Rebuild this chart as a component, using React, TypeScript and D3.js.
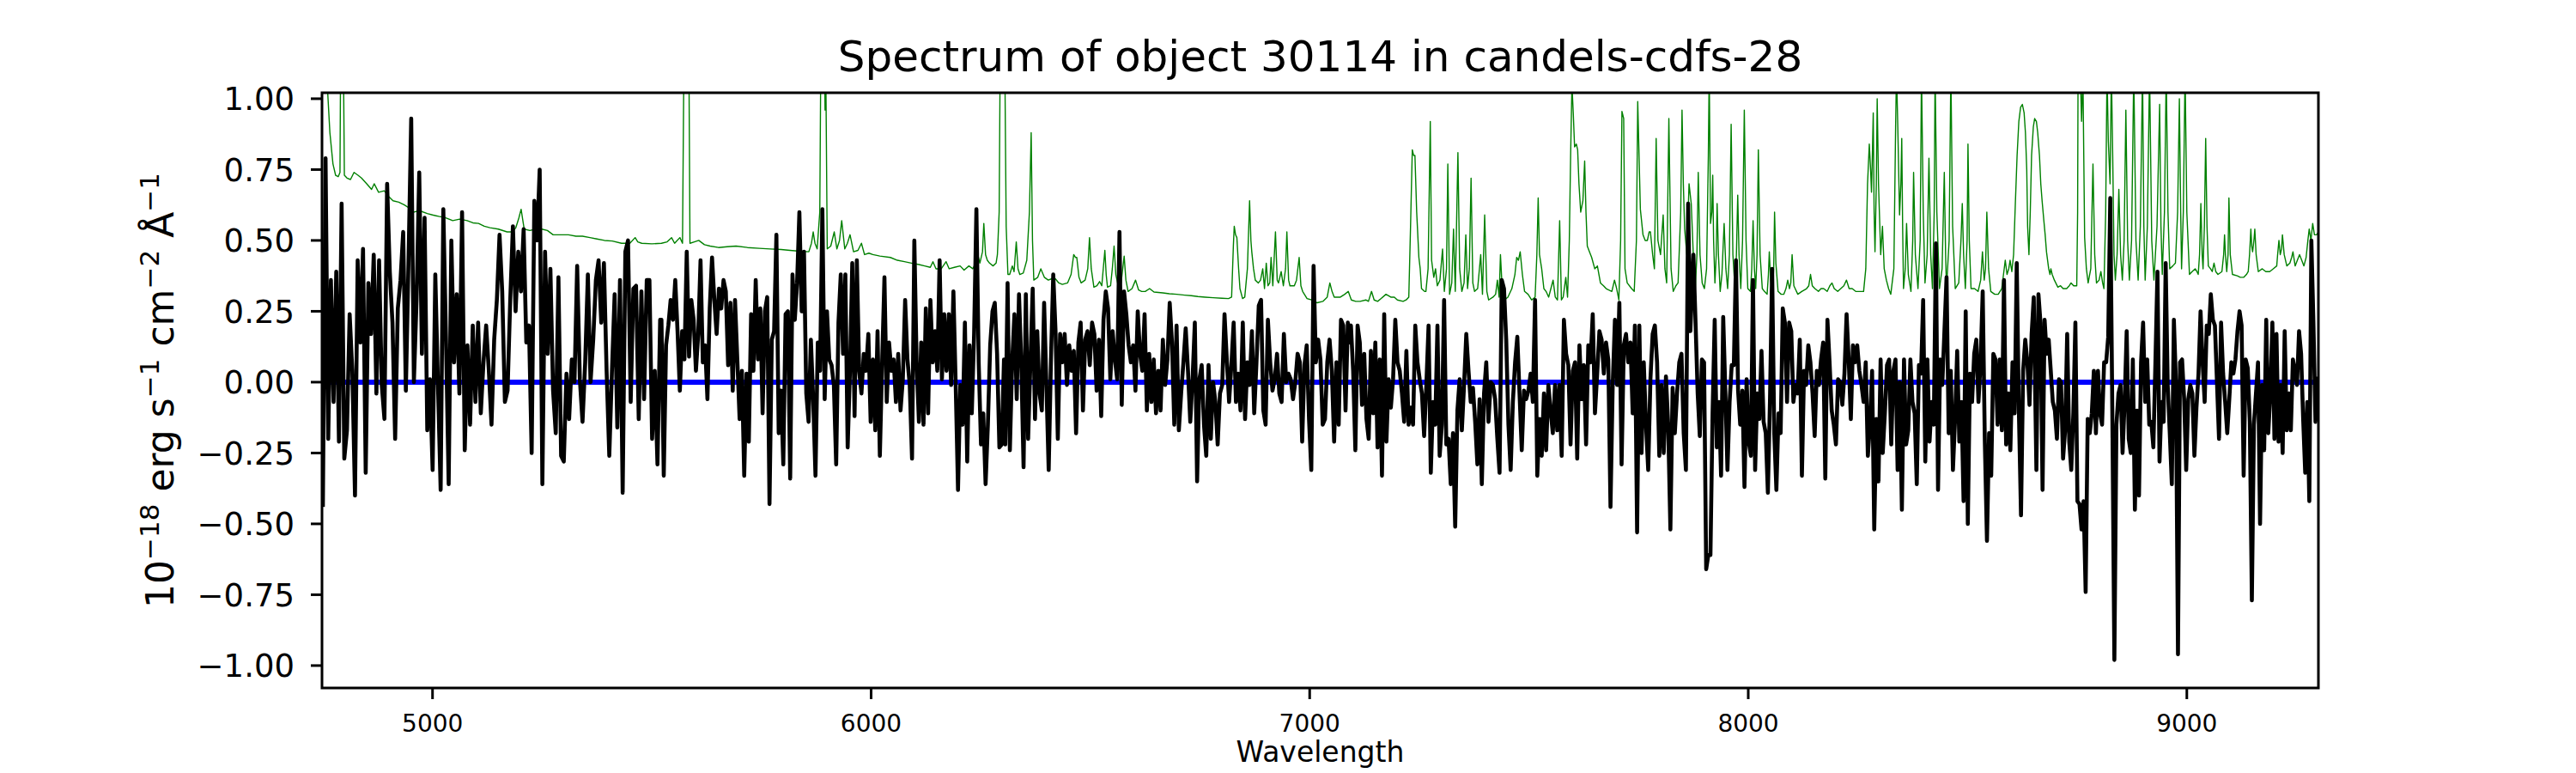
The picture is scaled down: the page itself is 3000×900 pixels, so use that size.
import * as d3 from "d3"

const WIDTH = 3000
const HEIGHT = 900
const MARGIN = { top: 108, right: 300, bottom: 99, left: 375 }
const FONT = "'DejaVu Sans', sans-serif"

const xDomain = [4748, 9300]
const yDomain = [-1.079, 1.021]
const xTicks = [5000, 6000, 7000, 8000, 9000]
const yTicks = [-1, -0.75, -0.5, -0.25, 0, 0.25, 0.5, 0.75, 1]

const title = "Spectrum of object 30114 in candels-cdfs-28"
const xLabel = "Wavelength"

// flux, read in six stretches; each stretch is evenly sampled between its start and end wavelength
const fluxStart = [4750, 5522, 6306, 7089, 7875, 8657]
const fluxEnd = [5519, 6303, 7087, 7868, 8651, 9298]

const flux1 = [-0.44, 0.79, -0.2, 0.36, -0.07, 0.39, -0.21, 0.63, -0.27, -0.17, 0.24, 0.04, -0.4, 0.43, 0.14, 0.47, -0.32, 0.35, 0.17, 0.45, -0.04, 0.43, -0.01, -0.13, 0.7, 0.39, 0.21, -0.2, 0.26, 0.36, 0.53, -0.03, 0.43, 0.93, 0.0, 0.29, 0.74, 0.1, 0.58, -0.17, 0.01, -0.31, 0.38, -0.01, -0.38, 0.61, 0.15, -0.36, 0.5, 0.07, 0.31, -0.04, 0.6, -0.24, 0.13, -0.15, 0.2, -0.07, 0.21, -0.11, 0.07, 0.2, 0.04, -0.15, 0.15, 0.29, 0.52, 0.32, -0.07, -0.03, 0.29, 0.55, 0.25, 0.46, 0.32, 0.54, 0.14, 0.2, -0.25, 0.64, 0.5, 0.75, -0.36, 0.46, 0.1, 0.4, -0.03, -0.18, 0.37, -0.26, -0.28, 0.03, -0.13, 0.08, 0.0, 0.41, 0.01, -0.14, 0.07, 0.38, 0.0, 0.15, 0.36, 0.43, 0.21, 0.42, 0.04, -0.26, 0.04, 0.31, -0.16, 0.36, -0.39, 0.46, 0.5, -0.07, 0.33, 0.34, -0.13, 0.32, -0.06, 0.36, 0.36, -0.2, 0.04, -0.29, 0.22]
const flux2 = [0.22, -0.33, 0.13, 0.2, 0.29, 0.22, 0.36, 0.18, -0.03, 0.18, 0.08, 0.46, 0.09, 0.29, 0.22, 0.04, 0.17, 0.43, 0.07, 0.13, -0.06, 0.26, 0.44, 0.29, 0.17, 0.33, 0.26, 0.36, 0.32, 0.06, 0.28, -0.03, 0.29, 0.08, -0.13, 0.04, -0.33, 0.03, -0.21, 0.24, 0.04, 0.36, 0.08, 0.26, -0.11, 0.25, 0.3, -0.43, 0.15, 0.18, 0.52, -0.18, -0.03, -0.29, 0.24, 0.25, -0.34, 0.38, 0.22, 0.35, 0.6, 0.25, 0.46, -0.04, -0.14, 0.15, -0.06, -0.33, 0.14, 0.04, 0.61, -0.06, 0.25, 0.08, 0.06, -0.01, -0.29, 0.21, 0.38, 0.1, 0.38, -0.23, 0.04, 0.42, -0.12, 0.43, 0.04, -0.04, 0.1, 0.04, 0.17, -0.14, 0.08, -0.17, 0.18, -0.26, 0.07, 0.37, -0.07, 0.14, 0.04, 0.08, -0.07, 0.1, -0.1, 0.01, 0.29, 0.08, -0.01, -0.27, 0.5, 0.07, -0.14, 0.14, -0.15, 0.26, -0.11, 0.29, 0.07, 0.18, 0.04, 0.43, 0.01, 0.24, 0.04, 0.24, -0.01, 0.32, -0.01, -0.38, -0.01, -0.15, 0.21, -0.28, 0.13, -0.11, 0.17, 0.61, 0.07, -0.22, -0.11, -0.36, -0.15, 0.13, 0.25, 0.28, 0.1, -0.23, -0.22, 0.08]
const flux3 = [-0.22, 0.35, -0.24, 0.07, 0.24, -0.06, 0.31, 0.07, -0.3, 0.31, -0.2, 0.07, 0.33, -0.13, 0.18, -0.04, -0.1, 0.28, -0.01, -0.31, 0.08, 0.38, 0.18, -0.2, 0.17, 0.07, 0.17, -0.01, 0.13, 0.04, 0.11, -0.18, 0.14, 0.21, -0.1, 0.15, 0.18, 0.06, 0.21, 0.17, -0.03, 0.15, -0.12, 0.22, 0.32, 0.26, 0.01, 0.18, 0.08, 0.01, 0.53, -0.08, 0.32, 0.24, 0.13, 0.07, 0.13, -0.03, 0.25, 0.1, 0.04, 0.24, -0.1, 0.1, -0.07, 0.08, -0.11, 0.04, -0.1, 0.15, -0.01, 0.08, 0.28, 0.14, -0.15, 0.2, -0.17, -0.04, 0.07, 0.19, 0.04, -0.14, 0.01, 0.21, -0.35, 0.01, 0.06, -0.15, -0.26, 0.06, -0.2, 0.0, -0.07, -0.22, -0.04, -0.01, 0.24, 0.08, -0.07, 0.06, 0.21, -0.07, 0.03, -0.1, 0.21, -0.13, 0.07, -0.01, 0.18, -0.11, 0.07, 0.27, 0.29, -0.1, -0.15, 0.22, 0.07, -0.03, 0.01, 0.1, -0.04, -0.07, 0.17, 0.0, 0.03, 0.01, -0.06, 0.0, 0.1, 0.07, -0.21, 0.06, 0.13, -0.13, -0.31, 0.41, 0.07, 0.15, 0.08, -0.15, -0.13, 0.07, 0.15, 0.04, -0.21, 0.07, -0.15, 0.22, 0.2, -0.1, 0.21]
const flux4 = [0.14, 0.2, 0.04, -0.24, 0.2, 0.14, -0.08, 0.1, -0.13, -0.2, 0.11, -0.11, 0.14, -0.23, 0.08, -0.33, 0.24, -0.21, 0.01, -0.09, 0.01, 0.22, 0.07, 0.04, -0.04, -0.14, 0.11, -0.15, -0.09, -0.15, 0.2, 0.07, 0.01, -0.04, -0.19, -0.01, 0.2, -0.32, -0.07, -0.15, 0.2, -0.26, -0.15, 0.29, -0.22, -0.2, -0.36, -0.18, -0.51, -0.1, 0.01, -0.17, -0.01, 0.17, 0.04, -0.07, -0.02, -0.14, -0.29, -0.06, -0.36, -0.04, 0.07, -0.14, 0.0, -0.01, -0.06, -0.2, -0.32, 0.36, 0.33, 0.15, -0.15, -0.31, -0.07, 0.07, 0.16, -0.04, -0.24, -0.03, -0.06, -0.03, 0.03, -0.07, 0.29, -0.33, -0.13, -0.26, -0.04, -0.24, -0.01, -0.1, -0.18, -0.01, -0.17, -0.01, -0.26, 0.22, 0.1, 0.06, -0.22, 0.04, 0.07, -0.27, 0.13, -0.06, 0.06, -0.22, 0.13, 0.07, 0.24, -0.11, 0.03, 0.18, 0.15, 0.03, 0.14, 0.08, -0.44, -0.01, 0.22, -0.01, 0.28, -0.29, 0.13, 0.17, 0.07, 0.14, -0.11, 0.2, -0.53, 0.2, -0.25, 0.07, -0.15, -0.31, 0.01, 0.17, 0.2, 0.07, -0.26, -0.01, -0.25, 0.02, -0.15, -0.52, -0.02, -0.18, -0.04, 0.07, 0.1, -0.18, -0.31, 0.63, 0.18]
const flux5 = [0.45, 0.21, -0.04, -0.19, 0.08, 0.07, -0.66, -0.61, -0.61, -0.11, 0.22, -0.23, -0.07, -0.33, 0.23, -0.03, -0.31, -0.07, 0.06, 0.06, 0.43, -0.03, -0.15, -0.03, -0.37, 0.01, -0.21, -0.26, 0.36, -0.31, -0.04, -0.13, 0.11, -0.14, -0.18, -0.39, -0.06, 0.4, -0.18, -0.38, -0.11, -0.18, 0.26, 0.21, -0.07, 0.21, 0.18, -0.07, -0.01, -0.04, 0.15, -0.33, 0.04, -0.01, 0.13, 0.07, -0.04, -0.19, 0.04, -0.01, 0.08, 0.14, -0.34, 0.22, 0.07, -0.1, -0.15, -0.22, 0.01, 0.0, -0.08, 0.03, 0.24, 0.08, -0.13, 0.13, 0.07, 0.13, 0.04, -0.01, -0.07, 0.07, -0.26, -0.15, 0.04, -0.52, -0.13, -0.35, 0.08, -0.25, -0.11, 0.06, 0.08, -0.22, 0.04, 0.08, -0.31, 0.0, -0.45, 0.08, -0.22, -0.17, 0.08, -0.07, -0.11, -0.36, 0.06, 0.03, 0.29, -0.28, 0.08, -0.21, -0.07, -0.15, 0.49, -0.38, 0.08, -0.01, 0.18, 0.37, -0.18, 0.04, -0.31, -0.13, 0.11, -0.21, -0.07, -0.42, 0.25, -0.5, 0.03, -0.07, 0.1, 0.15, -0.07, 0.07, 0.32, -0.21, -0.56, -0.18, -0.33, 0.1, 0.08, -0.15, 0.08, -0.17, 0.36, -0.22, -0.04, -0.24, 0.07, -0.11, 0.42, -0.1, -0.47, 0.04, 0.15, 0.07, -0.08, 0.17, 0.3]
const flux6 = [-0.31, 0.31, 0.21, -0.38, 0.22, 0.1, 0.15, 0.04, -0.07, -0.1, -0.2, 0.01, 0.0, -0.27, -0.17, 0.17, -0.21, -0.31, -0.11, 0.21, -0.42, -0.43, -0.52, -0.42, -0.74, -0.13, -0.18, -0.11, 0.04, -0.18, 0.04, -0.11, -0.15, 0.07, 0.07, 0.16, 0.65, -0.1, -0.98, -0.15, -0.04, -0.01, -0.25, -0.07, 0.18, -0.2, -0.25, 0.08, -0.45, -0.1, -0.4, 0.07, 0.21, -0.07, 0.08, -0.15, -0.14, -0.23, 0.07, 0.39, -0.28, -0.07, -0.14, 0.42, -0.01, -0.18, -0.36, 0.22, 0.0, -0.96, 0.07, 0.08, -0.06, -0.31, -0.06, -0.01, -0.04, -0.26, -0.09, 0.03, 0.25, 0.07, -0.07, 0.2, 0.17, 0.31, 0.22, 0.2, 0.0, -0.2, 0.21, 0.03, -0.07, -0.18, -0.06, 0.07, 0.03, 0.08, 0.18, 0.25, 0.2, -0.33, 0.08, 0.05, -0.14, -0.77, -0.15, -0.04, 0.07, -0.5, -0.01, -0.24, 0.22, -0.18, -0.04, 0.21, -0.2, 0.17, -0.21, -0.01, -0.25, 0.18, -0.17, -0.04, -0.17, 0.08, 0.04, -0.01, 0.18, 0.1, -0.13, -0.32, -0.07, -0.42, 0.5, 0.21, -0.14, 0.02]
const fluxSegments = [flux1, flux2, flux3, flux4, flux5, flux6]

// noise spectrum (green): [wavelength, value]; sky-line peaks run past the top of the axes
const noise: [number, number][] = [
  [4748, 1.2], [4760, 1.05], [4766, 0.88], [4773, 0.77], [4779, 0.73], [4785, 0.725], [4789, 0.74], [4791, 1.3], [4796, 1.3], [4799, 0.73],
  [4805, 0.72], [4813, 0.715], [4821, 0.74], [4830, 0.73], [4838, 0.72], [4850, 0.7], [4861, 0.68], [4867, 0.7], [4877, 0.67], [4890, 0.675],
  [4900, 0.655], [4910, 0.64], [4923, 0.635], [4936, 0.625], [4946, 0.615], [4958, 0.6], [4970, 0.605], [4988, 0.595], [5000, 0.59], [5014, 0.585],
  [5030, 0.58], [5046, 0.57], [5062, 0.575], [5079, 0.57], [5092, 0.562], [5105, 0.56], [5118, 0.55], [5131, 0.545], [5150, 0.54], [5170, 0.53],
  [5182, 0.53], [5190, 0.545], [5197, 0.58], [5202, 0.61], [5206, 0.57], [5209, 0.54], [5222, 0.535], [5236, 0.54], [5249, 0.54], [5262, 0.535],
  [5275, 0.52], [5294, 0.52], [5310, 0.52], [5327, 0.515], [5342, 0.515], [5359, 0.51], [5375, 0.505], [5392, 0.5], [5410, 0.498], [5431, 0.49],
  [5450, 0.49], [5462, 0.51], [5468, 0.495], [5477, 0.49], [5500, 0.488], [5522, 0.49], [5535, 0.495], [5545, 0.51], [5552, 0.49], [5564, 0.51],
  [5570, 0.49], [5574, 1.3], [5584, 1.3], [5587, 0.49], [5597, 0.495], [5607, 0.5], [5620, 0.485], [5633, 0.48], [5652, 0.475], [5672, 0.478],
  [5692, 0.48], [5718, 0.475], [5745, 0.472], [5770, 0.47], [5795, 0.468], [5815, 0.465], [5838, 0.462], [5858, 0.46], [5864, 0.49], [5868, 0.53],
  [5872, 0.49], [5877, 0.47], [5883, 0.6], [5886, 1.3], [5893, 1.3], [5895, 0.96], [5897, 1.05], [5900, 0.47], [5908, 0.48], [5916, 0.53],
  [5922, 0.47], [5928, 0.5], [5933, 0.57], [5940, 0.47], [5946, 0.49], [5952, 0.52], [5960, 0.46], [5970, 0.465], [5978, 0.49], [5985, 0.45],
  [5995, 0.455], [6004, 0.45], [6020, 0.445], [6044, 0.44], [6060, 0.43], [6076, 0.425], [6092, 0.42], [6109, 0.415], [6122, 0.41], [6135, 0.405],
  [6141, 0.425], [6148, 0.4], [6160, 0.4], [6171, 0.425], [6178, 0.4], [6190, 0.405], [6203, 0.41], [6212, 0.395], [6223, 0.41], [6232, 0.4],
  [6238, 0.42], [6242, 0.46], [6248, 0.42], [6254, 0.46], [6257, 0.56], [6261, 0.45], [6265, 0.43], [6270, 0.42], [6278, 0.41], [6285, 0.42],
  [6288, 0.45], [6292, 0.6], [6295, 1.3], [6304, 1.3], [6308, 0.55], [6312, 0.38], [6316, 0.38], [6322, 0.41], [6326, 0.39], [6331, 0.495],
  [6335, 0.4], [6339, 0.38], [6347, 0.385], [6355, 0.43], [6361, 0.6], [6365, 0.88], [6368, 0.5], [6371, 0.36], [6380, 0.37], [6387, 0.4],
  [6395, 0.37], [6404, 0.36], [6412, 0.365], [6420, 0.365], [6428, 0.35], [6436, 0.345], [6448, 0.35], [6456, 0.38], [6462, 0.45], [6466, 0.44],
  [6469, 0.44], [6474, 0.37], [6479, 0.35], [6488, 0.36], [6494, 0.4], [6498, 0.51], [6502, 0.4], [6508, 0.335], [6515, 0.34], [6521, 0.355],
  [6526, 0.34], [6533, 0.465], [6536, 0.38], [6539, 0.335], [6546, 0.34], [6550, 0.4], [6554, 0.48], [6558, 0.38], [6564, 0.335], [6570, 0.35],
  [6577, 0.445], [6581, 0.36], [6586, 0.32], [6595, 0.33], [6603, 0.36], [6610, 0.325], [6617, 0.32], [6625, 0.32], [6635, 0.33], [6645, 0.318],
  [6665, 0.315], [6680, 0.312], [6697, 0.31], [6715, 0.307], [6730, 0.305], [6745, 0.302], [6762, 0.3], [6780, 0.298], [6800, 0.296], [6815, 0.295],
  [6822, 0.3], [6826, 0.48], [6828, 0.55], [6831, 0.52], [6834, 0.51], [6838, 0.4], [6841, 0.33], [6847, 0.295], [6852, 0.3], [6858, 0.4],
  [6863, 0.64], [6866, 0.5], [6868, 0.46], [6872, 0.4], [6876, 0.36], [6883, 0.35], [6888, 0.36], [6893, 0.4], [6897, 0.33], [6901, 0.42],
  [6905, 0.34], [6909, 0.35], [6912, 0.44], [6916, 0.34], [6922, 0.53], [6926, 0.36], [6929, 0.35], [6935, 0.39], [6940, 0.34], [6945, 0.4],
  [6948, 0.53], [6952, 0.36], [6955, 0.34], [6965, 0.34], [6970, 0.36], [6976, 0.44], [6980, 0.34], [6984, 0.32], [6994, 0.295], [7005, 0.29],
  [7017, 0.28], [7030, 0.285], [7040, 0.3], [7046, 0.35], [7051, 0.32], [7056, 0.3], [7070, 0.3], [7080, 0.31], [7088, 0.32], [7095, 0.29],
  [7105, 0.285], [7115, 0.285], [7128, 0.29], [7134, 0.285], [7141, 0.32], [7147, 0.29], [7155, 0.285], [7163, 0.295], [7174, 0.31], [7185, 0.3],
  [7193, 0.3], [7200, 0.29], [7213, 0.285], [7220, 0.29], [7226, 0.3], [7230, 0.55], [7234, 0.82], [7237, 0.8], [7240, 0.8], [7244, 0.6],
  [7249, 0.44], [7252, 0.4], [7255, 0.33], [7262, 0.32], [7265, 0.32], [7270, 0.4], [7275, 0.92], [7278, 0.43], [7283, 0.37], [7287, 0.4],
  [7291, 0.34], [7297, 0.36], [7303, 0.47], [7307, 0.32], [7312, 0.4], [7315, 0.77], [7319, 0.31], [7324, 0.35], [7328, 0.54], [7332, 0.32],
  [7338, 0.81], [7342, 0.4], [7347, 0.32], [7352, 0.35], [7356, 0.52], [7360, 0.33], [7364, 0.4], [7368, 0.72], [7372, 0.35], [7376, 0.32],
  [7383, 0.33], [7390, 0.45], [7394, 0.31], [7399, 0.59], [7404, 0.32], [7408, 0.29], [7418, 0.3], [7424, 0.31], [7428, 0.36], [7432, 0.3],
  [7435, 0.45], [7440, 0.3], [7444, 0.29], [7452, 0.3], [7461, 0.33], [7468, 0.38], [7472, 0.44], [7476, 0.43], [7480, 0.46], [7485, 0.38],
  [7490, 0.32], [7498, 0.31], [7506, 0.29], [7514, 0.3], [7518, 0.45], [7521, 0.65], [7524, 0.45], [7529, 0.4], [7534, 0.33], [7539, 0.32],
  [7545, 0.3], [7550, 0.33], [7555, 0.36], [7560, 0.3], [7565, 0.29], [7570, 0.57], [7574, 0.29], [7578, 0.3], [7584, 0.37], [7588, 0.3],
  [7592, 0.5], [7595, 0.8], [7598, 1.05], [7601, 0.95], [7604, 0.83], [7608, 0.84], [7611, 0.82], [7614, 0.7], [7618, 0.6], [7623, 0.64],
  [7627, 0.78], [7630, 0.6], [7633, 0.48], [7638, 0.46], [7643, 0.44], [7650, 0.4], [7656, 0.41], [7663, 0.35], [7670, 0.34], [7676, 0.33],
  [7682, 0.325], [7689, 0.32], [7695, 0.36], [7700, 0.33], [7705, 0.29], [7709, 0.5], [7712, 0.955], [7716, 0.93], [7719, 0.4], [7724, 0.35],
  [7734, 0.33], [7740, 0.32], [7745, 0.5], [7748, 0.99], [7751, 0.8], [7754, 0.61], [7760, 0.52], [7765, 0.5], [7770, 0.5], [7774, 0.53],
  [7777, 0.53], [7782, 0.45], [7786, 0.4], [7790, 0.86], [7794, 0.5], [7800, 0.45], [7806, 0.59], [7810, 0.4], [7814, 0.35], [7819, 0.93],
  [7824, 0.4], [7829, 0.32], [7835, 0.34], [7840, 0.35], [7846, 0.6], [7849, 0.96], [7852, 0.7], [7855, 0.54], [7860, 0.45], [7865, 0.7],
  [7870, 0.63], [7876, 0.4], [7879, 0.32], [7883, 0.45], [7886, 0.74], [7890, 0.45], [7895, 0.35], [7900, 0.33], [7905, 0.4], [7909, 0.8],
  [7911, 1.1], [7914, 0.56], [7917, 0.6], [7919, 0.73], [7921, 0.5], [7924, 0.35], [7927, 0.45], [7929, 0.63], [7932, 0.45], [7936, 0.32],
  [7940, 0.38], [7945, 0.56], [7949, 0.4], [7953, 0.33], [7957, 0.45], [7961, 0.91], [7965, 0.45], [7970, 0.32], [7973, 0.45], [7976, 0.66],
  [7979, 0.45], [7983, 0.33], [7987, 0.5], [7991, 0.96], [7995, 0.5], [7999, 0.33], [8005, 0.32], [8008, 0.4], [8011, 0.57], [8014, 0.4],
  [8017, 0.33], [8020, 0.45], [8023, 0.82], [8027, 0.45], [8032, 0.33], [8037, 0.32], [8043, 0.31], [8046, 0.38], [8048, 0.46], [8051, 0.36],
  [8055, 0.31], [8058, 0.4], [8060, 0.6], [8063, 0.42], [8068, 0.32], [8075, 0.31], [8081, 0.31], [8086, 0.33], [8090, 0.36], [8094, 0.33],
  [8097, 0.35], [8100, 0.45], [8104, 0.34], [8113, 0.31], [8122, 0.32], [8133, 0.33], [8138, 0.34], [8142, 0.38], [8146, 0.34], [8152, 0.33],
  [8160, 0.32], [8166, 0.33], [8172, 0.33], [8180, 0.32], [8186, 0.34], [8191, 0.35], [8196, 0.33], [8204, 0.32], [8211, 0.33], [8218, 0.34],
  [8224, 0.36], [8230, 0.33], [8237, 0.33], [8245, 0.32], [8255, 0.32], [8263, 0.32], [8268, 0.4], [8272, 0.7], [8276, 0.84], [8279, 0.75],
  [8281, 0.67], [8283, 0.8], [8285, 0.95], [8287, 0.6], [8289, 0.46], [8292, 0.7], [8294, 1.0], [8297, 0.7], [8302, 0.45], [8306, 0.55],
  [8310, 0.4], [8315, 0.36], [8320, 0.33], [8325, 0.31], [8332, 0.4], [8336, 0.9], [8338, 1.1], [8341, 0.9], [8345, 0.59], [8348, 0.7],
  [8350, 0.86], [8352, 0.55], [8354, 0.33], [8358, 0.4], [8361, 0.56], [8365, 0.38], [8371, 0.32], [8375, 0.5], [8377, 0.74], [8381, 0.45],
  [8387, 0.33], [8392, 0.5], [8395, 1.1], [8399, 0.6], [8403, 0.35], [8408, 0.45], [8412, 0.79], [8416, 0.45], [8420, 0.33], [8424, 0.6],
  [8426, 1.1], [8430, 0.6], [8436, 0.33], [8442, 0.4], [8447, 0.74], [8450, 0.45], [8452, 0.33], [8458, 0.5], [8462, 1.1], [8466, 0.55],
  [8472, 0.33], [8480, 0.35], [8485, 0.5], [8488, 0.63], [8491, 0.45], [8495, 0.33], [8499, 0.5], [8501, 0.84], [8504, 0.5], [8508, 0.33],
  [8516, 0.33], [8524, 0.32], [8530, 0.36], [8534, 0.46], [8538, 0.36], [8541, 0.4], [8544, 0.6], [8548, 0.4], [8553, 0.32], [8562, 0.31],
  [8570, 0.31], [8578, 0.33], [8586, 0.43], [8590, 0.38], [8594, 0.4], [8597, 0.43], [8601, 0.39], [8605, 0.45], [8609, 0.63], [8613, 0.8],
  [8617, 0.92], [8621, 0.97], [8625, 0.98], [8629, 0.95], [8632, 0.88], [8635, 0.75], [8637, 0.55], [8640, 0.45], [8643, 0.6], [8646, 0.8],
  [8650, 0.9], [8653, 0.93], [8657, 0.92], [8660, 0.88], [8664, 0.8], [8667, 0.7], [8670, 0.64], [8674, 0.57], [8677, 0.52], [8680, 0.46],
  [8685, 0.4], [8688, 0.38], [8690, 0.4], [8693, 0.38], [8698, 0.36], [8706, 0.335], [8712, 0.34], [8718, 0.33], [8726, 0.33], [8732, 0.34],
  [8736, 0.35], [8742, 0.34], [8749, 0.34], [8751, 0.6], [8752, 1.1], [8757, 1.1], [8760, 0.92], [8763, 1.1], [8765, 0.8], [8767, 0.51],
  [8771, 0.4], [8775, 0.35], [8781, 0.4], [8786, 0.77], [8790, 0.45], [8794, 0.35], [8800, 0.36], [8804, 0.39], [8808, 0.35], [8811, 0.33],
  [8815, 0.6], [8818, 1.1], [8821, 0.85], [8825, 0.7], [8828, 1.1], [8831, 0.8], [8834, 0.45], [8837, 0.36], [8841, 0.45], [8845, 0.68],
  [8849, 0.45], [8853, 0.36], [8857, 0.5], [8861, 0.96], [8865, 0.5], [8869, 0.36], [8874, 0.5], [8879, 1.1], [8884, 0.5], [8889, 0.36],
  [8894, 0.55], [8899, 1.1], [8902, 0.55], [8905, 0.36], [8910, 0.55], [8915, 1.1], [8920, 0.5], [8925, 0.36], [8932, 0.55], [8938, 0.98],
  [8941, 0.55], [8944, 0.38], [8949, 0.6], [8953, 1.1], [8957, 0.6], [8961, 0.4], [8968, 0.41], [8974, 0.42], [8979, 0.6], [8983, 1.0],
  [8986, 0.6], [8988, 0.4], [8992, 0.6], [8996, 1.1], [9000, 0.6], [9006, 0.38], [9012, 0.39], [9019, 0.4], [9023, 0.39], [9026, 0.38],
  [9029, 0.45], [9032, 0.63], [9035, 0.45], [9037, 0.4], [9040, 0.55], [9043, 0.86], [9046, 0.55], [9049, 0.41], [9054, 0.4], [9058, 0.39],
  [9062, 0.42], [9066, 0.39], [9071, 0.38], [9080, 0.39], [9084, 0.45], [9086, 0.52], [9088, 0.45], [9091, 0.39], [9094, 0.45], [9096, 0.65],
  [9099, 0.45], [9104, 0.38], [9115, 0.375], [9122, 0.37], [9130, 0.37], [9136, 0.38], [9140, 0.39], [9143, 0.45], [9146, 0.54], [9148, 0.48],
  [9150, 0.46], [9153, 0.5], [9155, 0.54], [9158, 0.45], [9163, 0.39], [9172, 0.4], [9180, 0.39], [9189, 0.39], [9197, 0.4], [9205, 0.41],
  [9207, 0.45], [9210, 0.5], [9213, 0.45], [9216, 0.47], [9218, 0.52], [9222, 0.45], [9228, 0.41], [9235, 0.42], [9239, 0.44], [9242, 0.46],
  [9245, 0.43], [9247, 0.41], [9252, 0.43], [9257, 0.45], [9262, 0.43], [9267, 0.41], [9272, 0.44], [9276, 0.5], [9279, 0.54], [9283, 0.5],
  [9287, 0.56], [9291, 0.52], [9296, 0.52], [9300, 0.53],
]

// model (blue) is flat at zero over the whole range
const modelWave = [4748, 9300]
const modelFlux = [0, 0]

const fmtY = (v: number) => d3.format(".2f")(v).replace("-", "\u2212")

export default function App() {
  const innerW = WIDTH - MARGIN.left - MARGIN.right
  const innerH = HEIGHT - MARGIN.top - MARGIN.bottom

  const x = d3.scaleLinear().domain(xDomain).range([0, innerW])
  const y = d3.scaleLinear().domain(yDomain).range([innerH, 0])

  const fluxPoints: [number, number][] = fluxSegments.flatMap((seg, s) =>
    seg.map((v, i) => [
      fluxStart[s] + (i * (fluxEnd[s] - fluxStart[s])) / (seg.length - 1),
      v,
    ] as [number, number])
  )
  const modelPoints: [number, number][] = modelWave.map((w, i) => [w, modelFlux[i]])

  const line = d3
    .line<[number, number]>()
    .x((d) => x(d[0]))
    .y((d) => y(d[1]))

  const supSize = 31
  const supShift = 17

  return (
    <div style={{ position: "absolute", left: 0, top: 0 }}>
      <svg width={WIDTH} height={HEIGHT} style={{ display: "block", background: "#fff" }} fontFamily={FONT}>
        <defs>
          <clipPath id="plot-area">
            <rect x={0} y={0} width={innerW} height={innerH} />
          </clipPath>
        </defs>

        <text x={MARGIN.left + innerW / 2} y={83} textAnchor="middle" fontSize={50} fill="#000">
          {title}
        </text>

        <g transform={`translate(${MARGIN.left},${MARGIN.top})`}>
          <g clipPath="url(#plot-area)">
            <path d={line(noise) ?? ""} fill="none" stroke="#008000" strokeWidth={1.4} strokeLinejoin="round" />
            <path d={line(modelPoints) ?? ""} fill="none" stroke="#0000ff" strokeWidth={6} />
            <path d={line(fluxPoints) ?? ""} fill="none" stroke="#000" strokeWidth={4.6} strokeLinejoin="round" />
          </g>

          <rect x={0} y={0} width={innerW} height={innerH} fill="none" stroke="#000" strokeWidth={3} />

          {xTicks.map((t) => (
            <g key={t} transform={`translate(${x(t)},${innerH})`}>
              <line y1={0} y2={13} stroke="#000" strokeWidth={3} />
              <text y={51} textAnchor="middle" fontSize={28} fill="#000">
                {t}
              </text>
            </g>
          ))}

          {yTicks.map((t) => (
            <g key={t} transform={`translate(0,${y(t)})`}>
              <line x1={-13} x2={0} stroke="#000" strokeWidth={3} />
              <text x={-32} y={13.5} textAnchor="end" fontSize={37} fill="#000">
                {fmtY(t)}
              </text>
            </g>
          ))}
        </g>

        <text x={MARGIN.left + innerW / 2} y={887} textAnchor="middle" fontSize={33} fill="#000">
          {xLabel}
        </text>

        <text
          transform={`translate(202,${MARGIN.top + innerH / 2}) rotate(-90)`}
          textAnchor="middle"
          fontSize={44}
          fill="#000"
          style={{ whiteSpace: "pre" }}
        >
          <tspan>10</tspan>
          <tspan dy={-supShift} fontSize={supSize}>{"\u221218"}</tspan>
          <tspan dy={supShift}>{" erg s"}</tspan>
          <tspan dy={-supShift} fontSize={supSize}>{"\u22121"}</tspan>
          <tspan dy={supShift}>{" cm"}</tspan>
          <tspan dy={-supShift} fontSize={supSize}>{"\u22122"}</tspan>
          <tspan dy={supShift}>{" \u00c5"}</tspan>
          <tspan dy={-supShift} fontSize={supSize}>{"\u22121"}</tspan>
        </text>
      </svg>
    </div>
  )
}
